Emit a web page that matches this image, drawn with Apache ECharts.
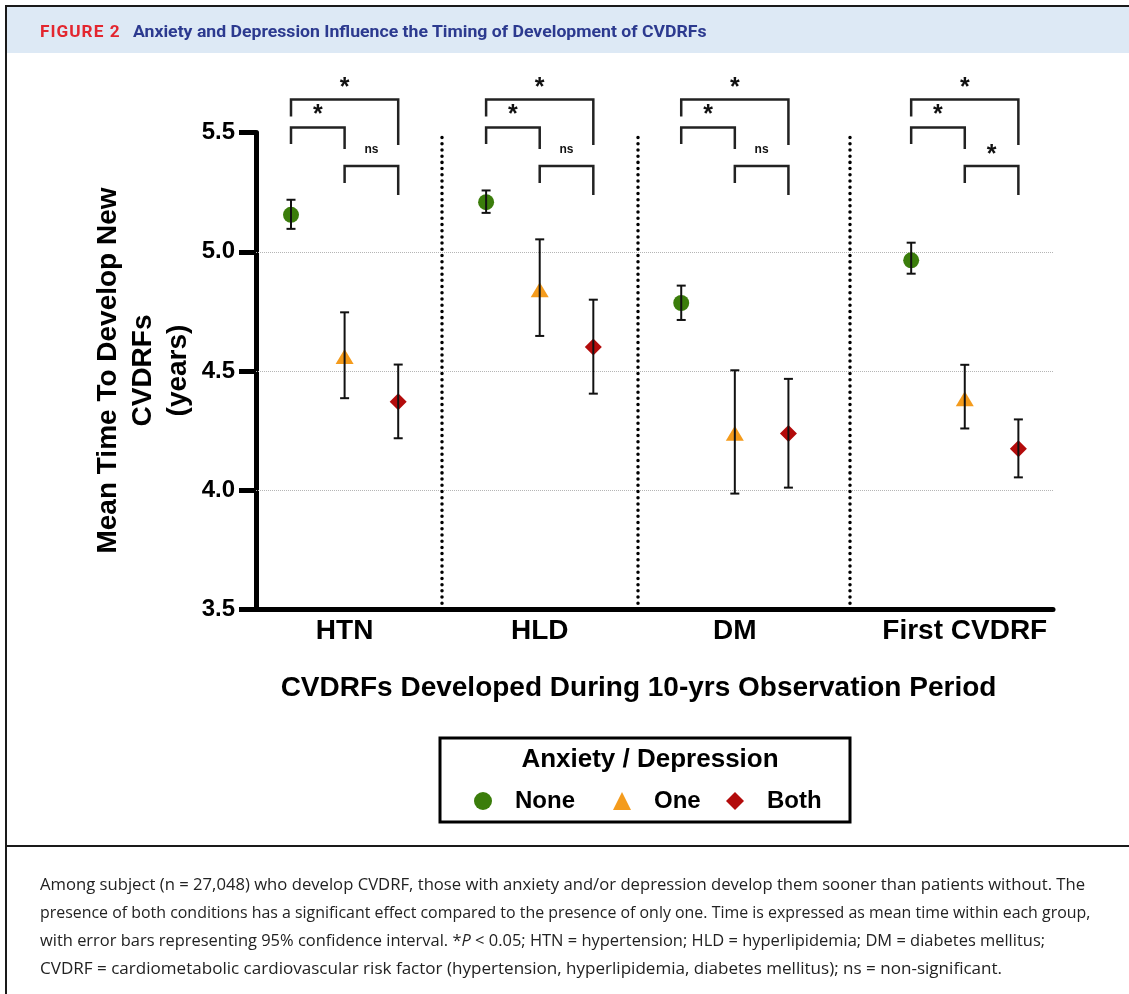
<!DOCTYPE html>
<html>
<head>
<meta charset="utf-8">
<script src="https://cdn.jsdelivr.net/npm/echarts@6/dist/echarts.min.js"></script>
<style>
html, body { margin: 0; padding: 0; background: #fff; }
#wrap { position: relative; width: 1129px; height: 994px; overflow: hidden; background: #fff; }
#chart { position: absolute; left: 0; top: 0; width: 1129px; height: 994px; }
.abs { position: absolute; }
.fit { white-space: nowrap; display: inline-block; transform-origin: 0 50%; }
.cap { font-family: "Open Sans", sans-serif; font-size: 16.5px; color: #222; line-height: 28px; height: 28px; }
</style>
</head>
<body>
<div id="wrap">
  <div class="abs" style="left:7px;top:7px;width:1122px;height:46px;background:#dde9f5"></div>
  <div id="chart"></div>
  <div class="abs" style="left:5px;top:5px;width:1124px;height:2px;background:#1a1a1a"></div>
  <div class="abs" style="left:5px;top:5px;width:2px;height:989px;background:#1a1a1a"></div>
  <div class="abs" style="left:5px;top:845px;width:1124px;height:2px;background:#1a1a1a"></div>
  <div class="abs" style="left:40px;top:21px;line-height:20px;height:20px"><span class="fit" data-w="81" style="color:#e3262f;font:bold 17px Roboto, sans-serif;letter-spacing:1px">FIGURE 2</span></div>
  <div class="abs" style="left:133px;top:21px;line-height:20px;height:20px"><span class="fit" data-w="574" style="color:#2c3a8f;font:bold 17px Roboto, sans-serif">Anxiety and Depression Influence the Timing of Development of CVDRFs</span></div>
  <div class="abs" style="left:40px;top:870px">
    <div class="cap"><span class="fit" data-w="1045">Among subject (n = 27,048) who develop CVDRF, those with anxiety and/or depression develop them sooner than patients without. The</span></div>
    <div class="cap"><span class="fit" data-w="1050">presence of both conditions has a significant effect compared to the presence of only one. Time is expressed as mean time within each group,</span></div>
    <div class="cap"><span class="fit" data-w="1005">with error bars representing 95% confidence interval. *<i>P</i> &lt; 0.05; HTN = hypertension; HLD = hyperlipidemia; DM = diabetes mellitus;</span></div>
    <div class="cap"><span class="fit" data-w="962">CVDRF = cardiometabolic cardiovascular risk factor (hypertension, hyperlipidemia, diabetes mellitus); ns = non-significant.</span></div>
  </div>
</div>
<script>
// ---------------- data ----------------
const categories = ['HTN', 'HLD', 'DM', 'First CVDRF'];
const groupLabels = ['None', 'One', 'Both'];
const noneMean = [5.155, 5.208, 4.785, 4.964];
const noneLow  = [5.096, 5.163, 4.714, 4.908];
const noneHigh = [5.218, 5.257, 4.858, 5.038];
const oneMean  = [4.561, 4.841, 4.239, 4.384];
const oneLow   = [4.386, 4.647, 3.986, 4.259];
const oneHigh  = [4.746, 5.052, 4.503, 4.526];
const bothMean = [4.371, 4.601, 4.238, 4.174];
const bothLow  = [4.218, 4.405, 4.011, 4.054];
const bothHigh = [4.527, 4.799, 4.467, 4.297];
// significance: [None vs Both, None vs One, One vs Both]
const sigLabels = [['*', '*', 'ns'], ['*', '*', 'ns'], ['*', '*', 'ns'], ['*', '*', '*']];
const gridValues = [4.0, 4.5, 5.0];
const yMin = 3.5, yMax = 5.5, yStep = 0.5;

// ---------------- layout ----------------
const groupBase = [0, 3.64, 7.28, 11.57];
const separatorX = [2.82, 6.46, 10.43];
const xMin = -0.653, xMax = 14.216;
const colors = ['#3b7d0b', '#f49b1c', '#b30b0b'];
const symbols = ['circle', 'triangle', 'diamond'];
const symbolSizes = [16, [18, 15], 17];
const FONT = '"Liberation Sans", Arial, sans-serif';

const means = [noneMean, oneMean, bothMean];
const lows = [noneLow, oneLow, bothLow];
const highs = [noneHigh, oneHigh, bothHigh];

const scatterSeries = groupLabels.map((name, s) => ({
  name: name,
  type: 'scatter',
  symbol: symbols[s],
  symbolSize: symbolSizes[s],
  itemStyle: { color: colors[s], opacity: 1 },
  z: 2,
  silent: true,
  data: categories.map((c, i) => [groupBase[i] + s, means[s][i]])
}));

const errData = [];
groupLabels.forEach((g, s) => {
  categories.forEach((c, i) => errData.push([groupBase[i] + s, lows[s][i], highs[s][i]]));
});

function renderErr(params, api) {
  const x = api.value(0), lo = api.value(1), hi = api.value(2);
  const p1 = api.coord([x, hi]), p2 = api.coord([x, lo]);
  const hw = 4.5;
  const st = { stroke: '#111', lineWidth: 2 };
  return {
    type: 'group',
    children: [
      { type: 'line', shape: { x1: p1[0], y1: p1[1], x2: p2[0], y2: p2[1] }, style: st },
      { type: 'line', shape: { x1: p1[0] - hw, y1: p1[1], x2: p1[0] + hw, y2: p1[1] }, style: st },
      { type: 'line', shape: { x1: p2[0] - hw, y1: p2[1], x2: p2[0] + hw, y2: p2[1] }, style: st }
    ]
  };
}

function renderBrackets(params, api) {
  const g = api.value(0);
  const base = groupBase[g];
  const top = api.coord([base, yMax])[1];
  const xs = [0, 1, 2].map(k => api.coord([base + k, yMax])[0]);
  const st = { stroke: '#222', lineWidth: 2.5, fill: 'none' };
  const br = (xa, xb, yt, yl, yr) => ({
    type: 'polyline',
    shape: { points: [[xa, top + yl], [xa, top + yt], [xb, top + yt], [xb, top + yr]] },
    style: st
  });
  const labels = sigLabels[g];
  const txt = (x, cy, t) => ({
    type: 'text',
    x: x,
    y: top + cy + (t === '*' ? 6 : 0),
    style: {
      text: t, align: 'center', verticalAlign: 'middle',
      font: t === '*' ? 'bold 25px ' + FONT : 'bold 12px ' + FONT,
      fill: '#111'
    }
  });
  return {
    type: 'group',
    children: [
      br(xs[0], xs[2], -33, -16, 12.5),
      br(xs[0], xs[1], -5, 11.5, 16.5),
      br(xs[1], xs[2], 33.5, 50.5, 62.5),
      txt((xs[0] + xs[2]) / 2, -50.5, labels[0]),
      txt((xs[0] + xs[1]) / 2, -23.5, labels[1]),
      txt((xs[1] + xs[2]) / 2, 17, labels[2])
    ]
  };
}

const legendCommon = {
  orient: 'horizontal', padding: 0, itemWidth: 18, itemHeight: 18, selectedMode: false,
  top: 789,
  textStyle: { fontSize: 24, fontWeight: 'bold', color: '#000', fontFamily: FONT, padding: [0, 0, 0, 18] }
};
const legendLeft = [474, 613, 726];

const chart = echarts.init(document.getElementById('chart'), null, { renderer: 'canvas' });
chart.setOption({
  animation: false,
  backgroundColor: 'transparent',
  textStyle: { fontFamily: FONT },
  grid: { left: 256, right: 76, top: 132.5, bottom: 384.5, containLabel: false },
  xAxis: {
    type: 'value', min: xMin, max: xMax,
    axisLine: { show: true, onZero: false, lineStyle: { color: '#000', width: 5 } },
    axisTick: { show: false },
    splitLine: { show: false },
    axisLabel: {
      customValues: groupBase.map(b => b + 1),
      formatter: v => {
        const i = groupBase.findIndex(b => Math.abs(b + 1 - v) < 0.01);
        return i >= 0 ? categories[i] : '';
      },
      fontSize: 28, fontWeight: 'bold', color: '#000', margin: 8, fontFamily: FONT,
      hideOverlap: false
    }
  },
  yAxis: {
    type: 'value', min: yMin, max: yMax, interval: yStep,
    axisLine: { show: true, onZero: false, lineStyle: { color: '#000', width: 5 } },
    axisTick: { show: true, length: 17, lineStyle: { color: '#000', width: 5 } },
    splitLine: { show: false },
    axisLabel: {
      fontSize: 24, fontWeight: 'bold', color: '#000', margin: 21, fontFamily: FONT,
      formatter: v => v.toFixed(1)
    }
  },
  legend: legendLeft.map((l, k) => Object.assign({}, legendCommon, { left: l, data: [groupLabels[k]] })),
  graphic: [
    { type: 'rect', shape: { x: 440, y: 738, width: 410, height: 84 }, style: { fill: '#fff', stroke: '#000', lineWidth: 3 }, z: 0 },
    { type: 'text', x: 650, y: 760, style: { text: 'Anxiety / Depression', align: 'center', verticalAlign: 'middle', font: 'bold 26px ' + FONT, fill: '#000' }, z: 1 },
    { type: 'text', x: 638.5, y: 688, style: { text: 'CVDRFs Developed During 10-yrs Observation Period', align: 'center', verticalAlign: 'middle', font: 'bold 28px ' + FONT, fill: '#000' } },
    { type: 'text', x: 143, y: 370.5, rotation: Math.PI / 2, style: { text: 'Mean Time To Develop New\nCVDRFs\n(years)', align: 'center', verticalAlign: 'middle', lineHeight: 35, font: 'bold 28px ' + FONT, fill: '#000' } }
  ],
  series: scatterSeries.concat([
    {
      name: 'errorbars', type: 'custom', z: 3, silent: true,
      renderItem: renderErr,
      encode: { x: 0, y: [1, 2] },
      data: errData,
      markLine: {
        silent: true, symbol: 'none', z: 1, label: { show: false },
        lineStyle: { type: 'dotted', color: '#b5b5b5', width: 1 },
        data: gridValues.map(v => ({ yAxis: v }))
      }
    },
    {
      name: 'brackets', type: 'custom', z: 3, silent: true, clip: false,
      renderItem: renderBrackets,
      encode: { x: -1, y: -1 },
      data: categories.map((c, i) => [i]),
      markLine: {
        silent: true, symbol: 'none', z: 1.5, label: { show: false },
        lineStyle: { type: [0.01, 6.2], cap: 'round', color: '#000', width: 3.5 },
        data: separatorX.map(v => ({ xAxis: v }))
      }
    }
  ])
});

// fit header/caption lines to their measured widths
document.querySelectorAll('.fit').forEach(el => {
  const w = parseFloat(el.getAttribute('data-w'));
  const ow = el.offsetWidth;
  if (ow > 0) el.style.transform = 'scaleX(' + (w / ow) + ')';
});
</script>
</body>
</html>
